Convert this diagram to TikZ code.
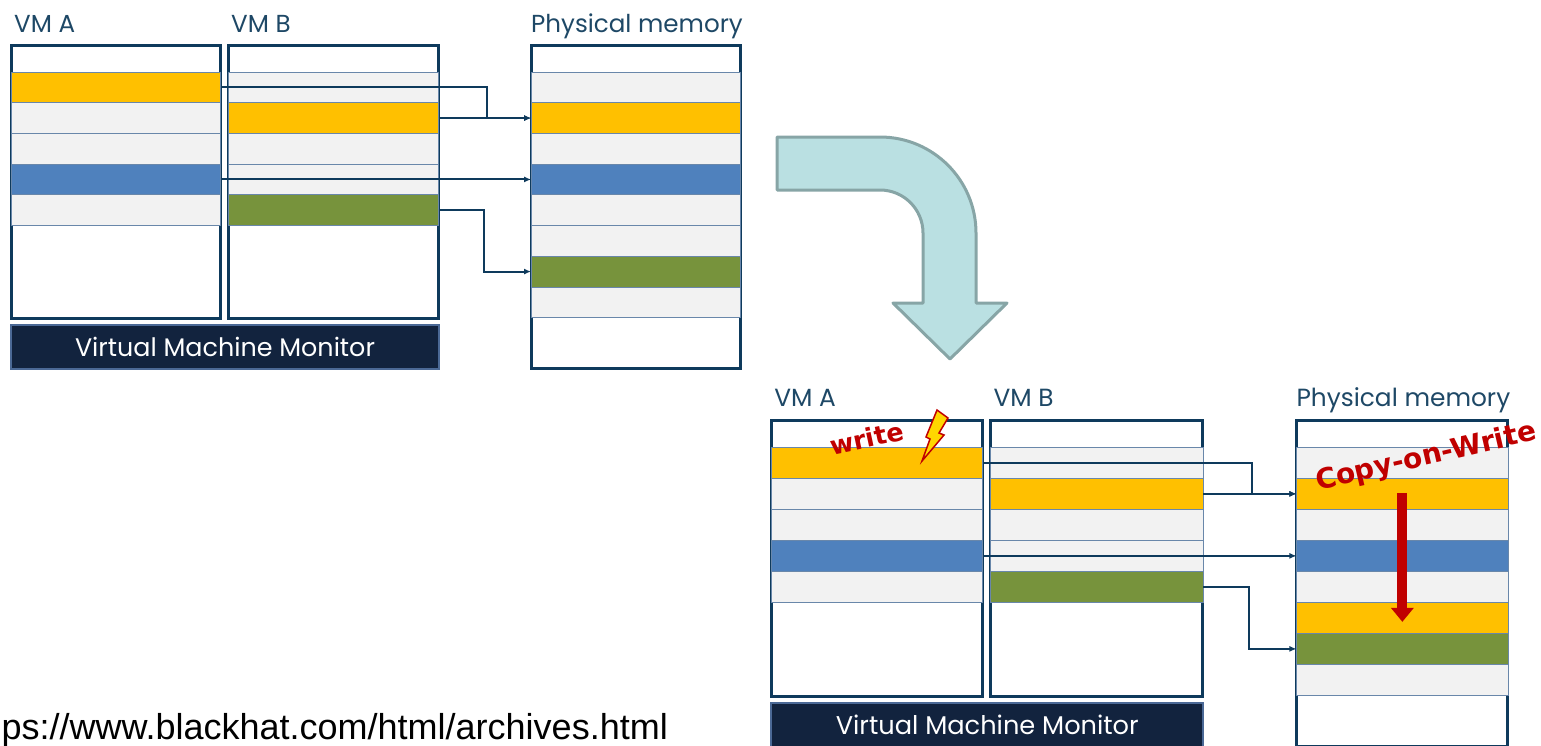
\documentclass[tikz,border=0pt]{standalone}
\usepackage{fontspec}
\setmainfont{Poppins}
\newfontfamily\urlfont{Liberation Sans}
\newfontfamily\redfont{DejaVu Sans}
\usetikzlibrary{arrows.meta}

\definecolor{boxblue}{RGB}{14,58,92}
\definecolor{lblblue}{RGB}{30,72,102}
\definecolor{rowline}{RGB}{105,135,170}
\definecolor{rowgray}{RGB}{242,242,242}
\definecolor{rowyellow}{RGB}{255,192,0}
\definecolor{rowblue}{RGB}{79,129,189}
\definecolor{rowgreen}{RGB}{119,147,60}
\definecolor{vmmfill}{RGB}{18,35,62}
\definecolor{vmmline}{RGB}{75,105,150}
\definecolor{turnfill}{RGB}{186,224,226}
\definecolor{turnline}{RGB}{135,165,166}
\definecolor{cowred}{RGB}{192,0,0}
\definecolor{boltyellow}{RGB}{255,215,0}

\tikzset{
  vmbox/.style={draw=boxblue, fill=white, line width=3pt, inner sep=0pt},
  page/.style={draw=rowline, line width=0.8pt, minimum height=30.7pt, inner sep=0pt},
  gry/.style={page, fill=rowgray},
  yel/.style={page, fill=rowyellow},
  blu/.style={page, fill=rowblue},
  grn/.style={page, fill=rowgreen},
  lbl/.style={text=lblblue, font=\fontsize{24.6}{28}\selectfont, inner sep=0pt, anchor=base west},
  vmm/.style={draw=vmmline, fill=vmmfill, line width=2pt, text=white,
    font=\fontsize{25.4}{28}\selectfont, minimum width=428pt, minimum height=44pt, inner sep=0pt},
  link/.style={draw=boxblue, line width=2pt, -{Latex[length=7pt,width=6pt]}},
  cow/.style={draw=cowred, line width=10pt, -{Triangle[length=14pt,width=22pt]}},
  redtxt/.style={text=cowred, font=\redfont\bfseries\fontsize{#1}{#1}\selectfont, inner sep=0pt, anchor=base},
}

% one snapshot: two VMs, the monitor and physical memory
\newcommand{\mempanel}[2]{%
  \node[lbl] (#1lA) at (14,32) {VM A};
  \node[lbl] (#1lB) at (231,32) {VM B};
  \node[lbl] (#1lP) at (531,32) {Physical memory};
  \node[vmbox, minimum width=209pt, minimum height=273pt] (#1vmA) at (116,182) {};
  \node[vmbox, minimum width=210pt, minimum height=273pt] (#1vmB) at (333.5,182) {};
  \node[vmbox, minimum width=209pt, minimum height=323pt] (#1mem) at (636,207) {};
  \foreach \col [count=\i] in {yel,gry,gry,blu,gry}
    \node[\col, minimum width=209pt] (#1A\i) at (116,{72+30.7*(\i-0.5)}) {};
  \foreach \col [count=\i] in {gry,yel,gry,gry,grn}
    \node[\col, minimum width=210pt] (#1B\i) at (333.5,{72+30.7*(\i-0.5)}) {};
  \foreach \col [count=\i] in {gry,yel,gry,blu,gry,#2,grn,gry}
    \node[\col, minimum width=209pt] (#1P\i) at (636,{72+30.7*(\i-0.5)}) {};
  \node[vmm] (#1mon) at (225,347) {Virtual Machine Monitor};
  \draw[link] (#1A1.east) -| ([xshift=-44pt]#1P2.west) -- (#1P2.west);
  \draw[link] (#1B2.east) -- (#1P2.west);
  \draw[link] (#1A4.east) -- (#1P4.west);
  \draw[link] (#1B5.east) -| ([xshift=-47pt]#1P7.west) -- (#1P7.west);
}

\begin{document}
\begin{tikzpicture}[x=1pt,y=-1pt,line cap=butt]
  \useasboundingbox (0,0) rectangle (1541,745);
  \clip (0,0) rectangle (1541,745);

  % before the write
  \mempanel{t}{gry}

  % turn arrow
  \filldraw[fill=turnfill, draw=turnline, line width=3pt, line join=round]
    (777,137) -- (880,137) arc[start angle=-90, end angle=0, radius=96]
    -- (976,303) -- (1007,303) -- (950,359) -- (893,303) -- (923,303)
    -- (923,233) arc[start angle=0, end angle=-90, radius=43]
    -- (777,190) -- cycle;

  % after the write
  \begin{scope}[shift={(760,374.6)}, scale=1.01, transform shape]
    \mempanel{b}{yel}
  \end{scope}

  \node[redtxt=25.5, rotate=12] (wlbl) at (869,447.5) {write};
  \filldraw[fill=boltyellow, draw=cowred, line width=1.5pt, line join=miter]
    (937,410) -- (948,418) -- (939,433) -- (944,435) -- (922,461)
    -- (930,439) -- (926,437) -- cycle;
  \node[redtxt=28, rotate=13] (cowlbl) at (1428,465) {Copy-on-Write};
  \draw[cow] ([yshift=1pt]bP2.center) -- ([yshift=-4pt]bP6.center);

  \node[font=\urlfont\fontsize{36}{40}\selectfont, anchor=base east, inner sep=0pt]
    (src) at (668,739) {ps://www.blackhat.com/html/archives.html};
\end{tikzpicture}
\end{document}
